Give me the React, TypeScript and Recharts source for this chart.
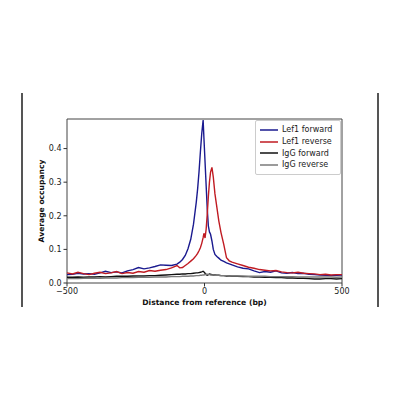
import {
  LineChart,
  Line,
  XAxis,
  YAxis,
  Legend,
  ReferenceArea,
} from "recharts";

const DISTANCE = [
  -500, -480, -460, -440, -420, -400, -380, -360, -340, -320, -300, -280, -260, -240, -220, -200, -180, -160, -140, -120, -100,
  -90, -80, -70, -60, -50, -40, -30,
  -25, -20, -15, -10, -5, -2,
  2, 6, 10, 14, 18, 22, 27, 32, 38, 45, 52, 60, 70, 80, 90, 100,
  120, 140, 160, 180, 200, 220, 240, 260, 280, 300, 320, 340, 360, 380, 400, 420, 440, 460, 480, 500,
];

const LEF1_FORWARD = [
  0.025, 0.026, 0.029, 0.027, 0.028, 0.026, 0.03, 0.035, 0.031, 0.033, 0.03, 0.036, 0.04, 0.046, 0.042, 0.045, 0.049, 0.054, 0.053, 0.052, 0.056,
  0.062, 0.07, 0.082, 0.102, 0.13, 0.175, 0.24,
  0.28, 0.33, 0.39, 0.445, 0.485, 0.43,
  0.36, 0.29, 0.22, 0.17, 0.152, 0.145, 0.125, 0.1, 0.085, 0.079, 0.074, 0.068, 0.064, 0.06, 0.057, 0.054,
  0.048, 0.044, 0.042, 0.036, 0.031, 0.034, 0.032, 0.036, 0.03, 0.029, 0.031, 0.028, 0.029, 0.026, 0.025, 0.024, 0.023, 0.022, 0.023, 0.024,
];

const LEF1_REVERSE = [
  0.03, 0.027, 0.032, 0.028, 0.025, 0.029, 0.032, 0.028, 0.03, 0.034, 0.028, 0.031, 0.029, 0.034, 0.032, 0.037, 0.035, 0.038, 0.04, 0.045, 0.052,
  0.045, 0.046, 0.052, 0.058, 0.065, 0.072, 0.082,
  0.088, 0.096, 0.105, 0.118, 0.135, 0.148,
  0.134, 0.16, 0.205, 0.257, 0.3, 0.33, 0.344, 0.315, 0.265, 0.225, 0.185, 0.15, 0.115, 0.075, 0.066, 0.062,
  0.057, 0.052, 0.047, 0.044, 0.04, 0.038, 0.036, 0.037, 0.033, 0.031, 0.03, 0.032, 0.029, 0.028, 0.027, 0.025, 0.026, 0.024, 0.025, 0.025,
];

const IGG_FORWARD = [
  0.017, 0.017, 0.018, 0.017, 0.018, 0.018, 0.019, 0.018, 0.019, 0.02, 0.02, 0.02, 0.021, 0.021, 0.021, 0.022, 0.022, 0.023, 0.024, 0.025, 0.026,
  0.026, 0.027, 0.027, 0.028, 0.028, 0.029, 0.03,
  0.03, 0.031, 0.032, 0.033, 0.035, 0.033,
  0.029, 0.025, 0.023, 0.025, 0.027, 0.026, 0.025, 0.024, 0.024, 0.023, 0.023, 0.022, 0.022, 0.021, 0.021, 0.02,
  0.02, 0.019, 0.019, 0.018, 0.018, 0.017, 0.017, 0.016, 0.016, 0.015, 0.015, 0.014, 0.014, 0.013, 0.012, 0.012, 0.013, 0.013, 0.012, 0.013,
];

const IGG_REVERSE = [
  0.013, 0.013, 0.013, 0.014, 0.014, 0.014, 0.014, 0.015, 0.015, 0.015, 0.016, 0.016, 0.016, 0.017, 0.017, 0.017, 0.018, 0.018, 0.018, 0.019, 0.019,
  0.019, 0.02, 0.02, 0.02, 0.021, 0.021, 0.022,
  0.022, 0.022, 0.023, 0.023, 0.024, 0.024,
  0.025, 0.026, 0.026, 0.025, 0.025, 0.024, 0.024, 0.024, 0.023, 0.023, 0.023, 0.022, 0.022, 0.022, 0.021, 0.021,
  0.021, 0.021, 0.02, 0.02, 0.02, 0.02, 0.019, 0.019, 0.019, 0.019, 0.019, 0.018, 0.018, 0.018, 0.018, 0.018, 0.018, 0.018, 0.017, 0.018,
];

const X_TICKS = [-500, 0, 500];
const Y_TICKS = [0, 0.1, 0.2, 0.3, 0.4];
const Y_MAX = 0.488;

const SERIES = [
  { key: "lef1f", label: "Lef1 forward", color: "#1a1a8f", values: LEF1_FORWARD },
  { key: "lef1r", label: "Lef1 reverse", color: "#c01b22", values: LEF1_REVERSE },
  { key: "iggf", label: "IgG forward", color: "#111111", values: IGG_FORWARD },
  { key: "iggr", label: "IgG reverse", color: "#7a7a7a", values: IGG_REVERSE },
];

const FONT = "DejaVu Sans";

const data = DISTANCE.map((x, i) => {
  const row: Record<string, number> = { x };
  for (const s of SERIES) row[s.key] = s.values[i];
  return row;
});

const fmtX = (v: number) => (v < 0 ? `\u2212${Math.abs(v)}` : `${v}`);

function LegendBox() {
  return (
    <div
      style={{
        border: "1px solid #cccccc",
        borderRadius: 2,
        background: "#fff",
        padding: "3px 4px",
        fontFamily: FONT,
        fontSize: 8,
        color: "#1a1a1a",
        boxSizing: "border-box",
      }}
    >
      {SERIES.map((s) => (
        <div key={s.key} style={{ display: "flex", alignItems: "center", height: 11.7 }}>
          <svg width={18} height={4} style={{ marginRight: 4 }}>
            <line x1={0} y1={2} x2={18} y2={2} stroke={s.color} strokeWidth={1.5} />
          </svg>
          <span>{s.label}</span>
        </div>
      ))}
    </div>
  );
}

export default function App() {
  return (
    <div style={{ position: "absolute", left: 0, top: 0, width: 400, height: 400, background: "#fff" }}>
      <div style={{ position: "absolute", left: 21, top: 93, width: 1.5, height: 214, background: "#555" }} />
      <div style={{ position: "absolute", left: 377, top: 93, width: 1.5, height: 214, background: "#555" }} />
      <LineChart
        width={400}
        height={400}
        data={data}
        margin={{ top: 119, right: 58, bottom: 93, left: 27 }}
      >
        <XAxis
          dataKey="x"
          type="number"
          domain={[-500, 500]}
          ticks={X_TICKS}
          tickFormatter={fmtX}
          axisLine={false}
          tickSize={3.5}
          tickLine={{ stroke: "#333" }}
          tick={{ fontSize: 8, fill: "#1a1a1a", fontFamily: FONT }}
          height={24}
          label={{
            value: "Distance from reference (bp)",
            position: "insideBottom",
            offset: 2,
            fontSize: 7.6,
            fontWeight: "bold",
            fill: "#111",
            fontFamily: FONT,
          }}
        />
        <YAxis
          type="number"
          domain={[0, Y_MAX]}
          ticks={Y_TICKS}
          allowDataOverflow
          tickFormatter={(v: number) => v.toFixed(1)}
          axisLine={false}
          tickSize={3.5}
          tickLine={{ stroke: "#333" }}
          tick={{ fontSize: 8, fill: "#1a1a1a", fontFamily: FONT }}
          width={40}
          label={{
            value: "Average occupancy",
            angle: -90,
            position: "insideLeft",
            offset: 14,
            style: { textAnchor: "middle" },
            fontSize: 7.6,
            fontWeight: "bold",
            fill: "#111",
            fontFamily: FONT,
          }}
        />
        <ReferenceArea
          x1={-500}
          x2={500}
          y1={0}
          y2={Y_MAX}
          fill="none"
          stroke="#444"
          strokeWidth={1}
          ifOverflow="visible"
        />
        {SERIES.map((s) => (
          <Line
            key={s.key}
            type="linear"
            dataKey={s.key}
            name={s.label}
            stroke={s.color}
            strokeWidth={1.4}
            dot={false}
            isAnimationActive={false}
          />
        ))}
        <Legend
          layout="vertical"
          align="center"
          verticalAlign="middle"
          content={() => <LegendBox />}
          wrapperStyle={{ position: "absolute", left: 255, top: 120, width: 86 }}
        />
      </LineChart>
    </div>
  );
}
